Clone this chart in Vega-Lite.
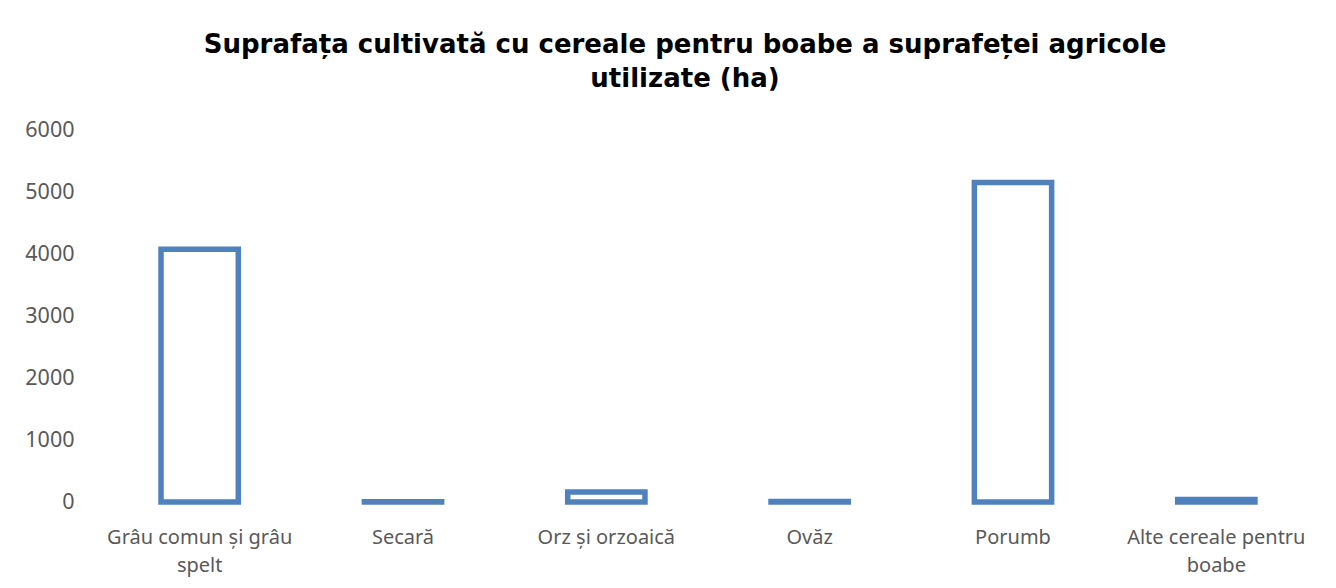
{
  "$schema": "https://vega.github.io/schema/vega-lite/v6.json",
  "autosize": "none",
  "width": 1220,
  "height": 372,
  "padding": {"left": 98, "top": 130, "right": 18, "bottom": 86},
  "background": "white",
  "title": {
    "text": ["Suprafața cultivată cu cereale pentru boabe a suprafeței agricole", "utilizate (ha)"],
    "font": "DejaVu Sans",
    "fontSize": 26,
    "fontWeight": "bold",
    "color": "#000000",
    "lineHeight": 34,
    "anchor": "middle",
    "dx": -23,
    "offset": 27
  },
  "data": {
    "values": [
      {"cereala": "Grâu comun și grâu spelt", "suprafata": 4075},
      {"cereala": "Secară", "suprafata": 5},
      {"cereala": "Orz și orzoaică", "suprafata": 160},
      {"cereala": "Ovăz", "suprafata": 10},
      {"cereala": "Porumb", "suprafata": 5155},
      {"cereala": "Alte cereale pentru boabe", "suprafata": 40}
    ]
  },
  "mark": {"type": "bar", "fill": "white", "stroke": "#4f81bd", "strokeWidth": 5.5},
  "encoding": {
    "x": {
      "field": "cereala",
      "type": "nominal",
      "sort": null,
      "scale": {"paddingInner": 0.62},
      "axis": {
        "title": null,
        "labelAngle": 0,
        "domain": false,
        "ticks": false,
        "labelFont": "Noto Sans",
        "labelFontSize": 20,
        "labelColor": "#595959",
        "labelPadding": 25,
        "labelLineHeight": 28,
        "labelLimit": 0,
        "labelExpr": "datum.label == 'Grâu comun și grâu spelt' ? ['Grâu comun și grâu', 'spelt'] : datum.label == 'Alte cereale pentru boabe' ? ['Alte cereale pentru', 'boabe'] : datum.label"
      }
    },
    "y": {
      "field": "suprafata",
      "type": "quantitative",
      "scale": {"domain": [0, 6000]},
      "axis": {
        "title": null,
        "values": [0, 1000, 2000, 3000, 4000, 5000, 6000],
        "format": "d",
        "grid": false,
        "domain": false,
        "ticks": false,
        "labelFont": "Noto Sans",
        "labelFontSize": 21.5,
        "labelColor": "#595959",
        "labelPadding": 24
      }
    }
  },
  "config": {"view": {"stroke": null}}
}
